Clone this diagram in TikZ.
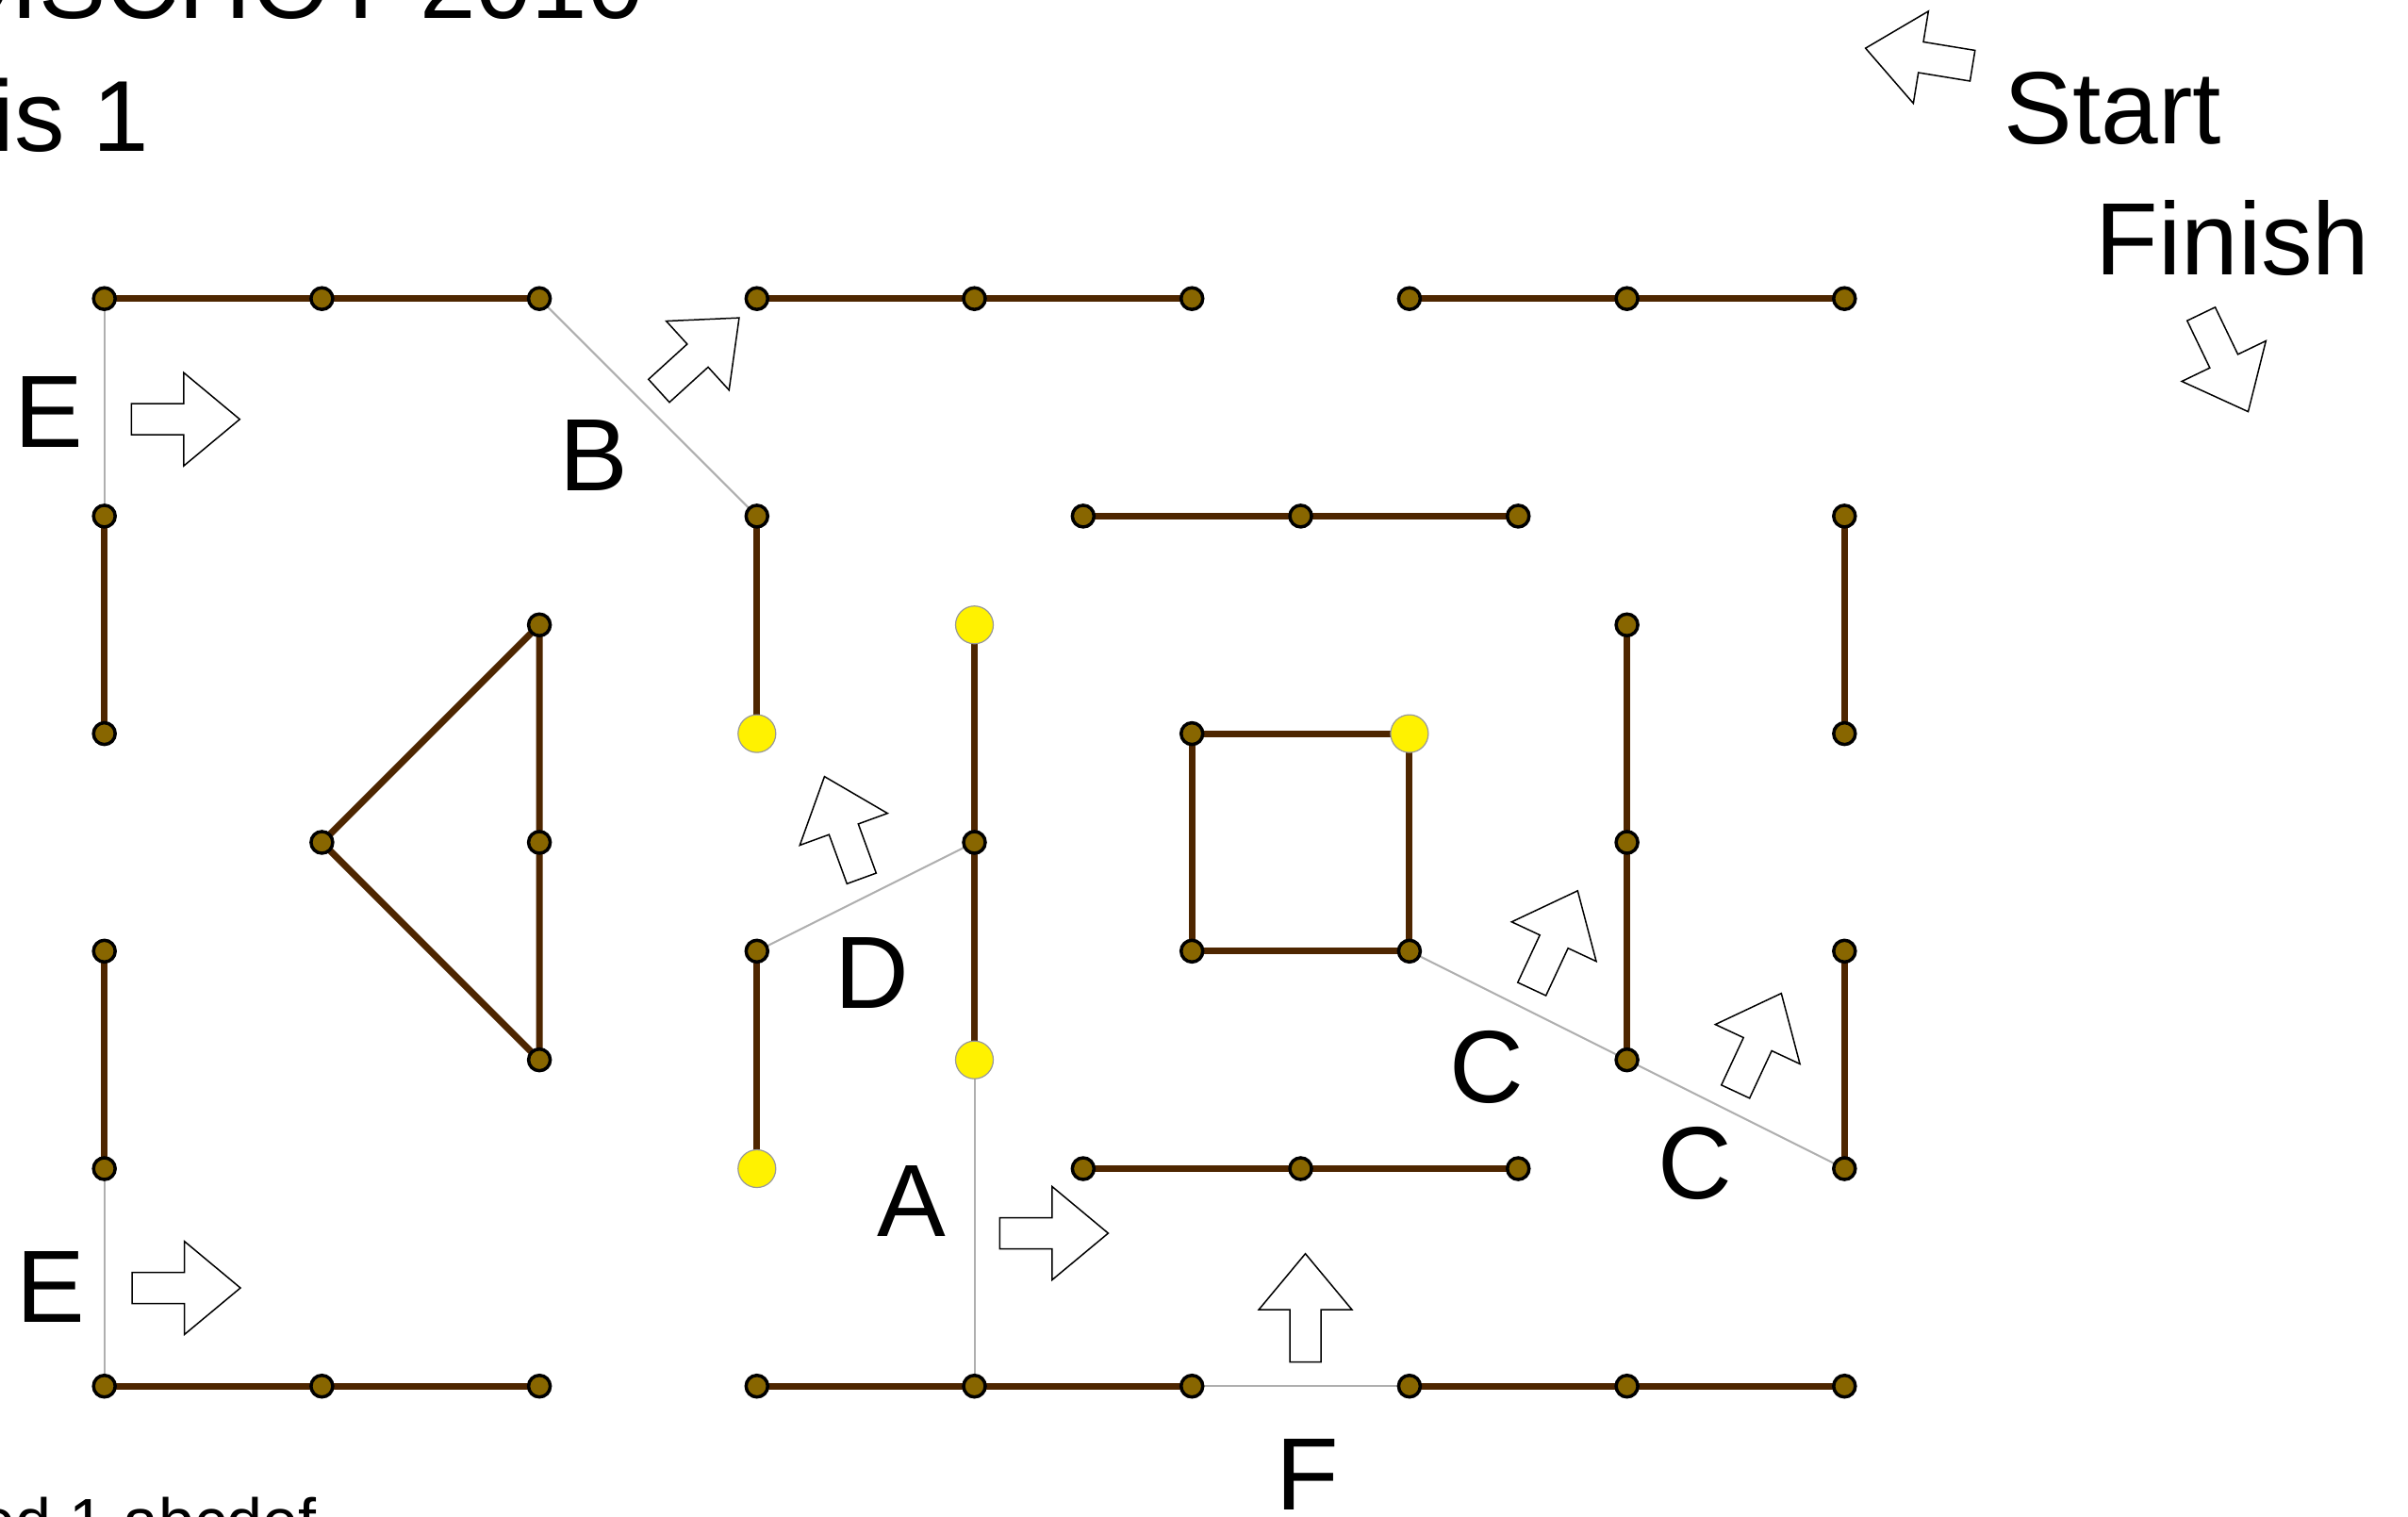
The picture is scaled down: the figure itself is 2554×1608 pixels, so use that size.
\documentclass[tikz,border=0pt]{standalone}
\usepackage{fontspec}
\setmainfont{Liberation Sans}
\definecolor{wallbrown}{RGB}{78,38,0}
\definecolor{dotgold}{RGB}{136,102,0}
\definecolor{guidegray}{RGB}{175,175,175}
\tikzset{
  wall/.style={draw=wallbrown, line width=0.07cm},
  guideline/.style={draw=guidegray, line width=0.02cm},
  post/.style={circle, fill=dotgold, draw=black, line width=0.035cm, inner sep=0pt, minimum size=0.23cm},
  ypost/.style={circle, fill=yellow, draw=gray!80, line width=0.012cm, inner sep=0pt, minimum size=0.40cm},
  lbl/.style={font=\fontsize{31}{36}\selectfont, inner sep=0pt},
  toptext/.style={font=\fontsize{30.4}{36}\selectfont, inner sep=0pt},
  bottext/.style={font=\fontsize{19.4}{23}\selectfont, inner sep=0pt},
  barrow/.style={draw=black, fill=white, line width=0.015cm, line join=miter}
}
\newcommand\blockarr[3]{\draw[barrow, shift={(#1,#2)}, rotate=#3] (0,-16.5) -- (55.5,-16.5) -- (55.5,-49.5) -- (115,0) -- (55.5,49.5) -- (55.5,16.5) -- (0,16.5) -- cycle;}
\begin{document}
\begin{tikzpicture}[x=0.01cm, y=-0.01cm]
\useasboundingbox (0,0) rectangle (2554,1608);
\clip (0,0) rectangle (2554,1608);
\fill[white] (0,0) rectangle (2554,1608);
% grid in half units
\foreach \X in {0,...,16} {
  \foreach \Y in {0,...,10} {
    \coordinate (g\X-\Y) at ({110.7+115.35*\X},{316.7+115.35*\Y});
  }
}
% guide lines
\draw[guideline] (g0-0) -- (g0-2);
\draw[guideline] (g0-8) -- (g0-10);
\draw[guideline] (g4-0) -- (g6-2);
\draw[guideline] (g6-6) -- (g8-5);
\draw[guideline] (g8-7) -- (g8-10);
\draw[guideline] (g10-10) -- (g12-10);
\draw[guideline] (g12-6) -- (g14-7) -- (g16-8);
% walls
\draw[wall] (g0-0) -- (g4-0);
\draw[wall] (g6-0) -- (g10-0);
\draw[wall] (g12-0) -- (g16-0);
\draw[wall] (g0-2) -- (g0-4);
\draw[wall] (g6-2) -- (g6-4);
\draw[wall] (g9-2) -- (g13-2);
\draw[wall] (g16-2) -- (g16-4);
\draw[wall] (g4-3) -- (g2-5) -- (g4-7) -- cycle;
\draw[wall] (g8-3) -- (g8-7);
\draw[wall] (g10-4) -- (g12-4) -- (g12-6) -- (g10-6) -- cycle;
\draw[wall] (g14-3) -- (g14-7);
\draw[wall] (g0-6) -- (g0-8);
\draw[wall] (g6-6) -- (g6-8);
\draw[wall] (g16-6) -- (g16-8);
\draw[wall] (g9-8) -- (g13-8);
\draw[wall] (g0-10) -- (g4-10);
\draw[wall] (g6-10) -- (g10-10);
\draw[wall] (g12-10) -- (g16-10);
% posts
\foreach \p in {0-0,2-0,4-0,6-0,8-0,10-0,12-0,14-0,16-0,
                0-2,0-4,6-2,9-2,11-2,13-2,16-2,16-4,
                4-3,2-5,4-5,4-7,8-5,10-4,10-6,12-6,14-3,14-5,14-7,
                0-6,0-8,6-6,16-6,16-8,9-8,11-8,13-8,
                0-10,2-10,4-10,6-10,8-10,10-10,12-10,14-10,16-10}
  \node[post] (P\p) at (g\p) {};
\foreach \p in {6-4,8-3,8-7,12-4,6-8}
  \node[ypost] (Y\p) at (g\p) {};
% block arrows
\blockarr{139.3}{444.7}{0}
\blockarr{140}{1366}{0}
\blockarr{698.9}{414.5}{42.3}
\blockarr{913.8}{931.7}{110}
\blockarr{1060.4}{1308}{0}
\blockarr{1384.5}{1444.7}{90}
\blockarr{1624.7}{1049}{65}
\blockarr{1840.7}{1157.8}{65}
\blockarr{2092.1}{69.7}{170.7}
\blockarr{2334.6}{333}{-64.3}
% labels
\node[lbl] (lE1) at (52,437) {E};
\node[lbl] (lE2) at (53.7,1365) {E};
\node[lbl] (lB) at (630,483) {B};
\node[lbl] (lD) at (925,1032) {D};
\node[lbl] (lA) at (967,1274) {A};
\node[lbl] (lC1) at (1577,1132) {C};
\node[lbl] (lC2) at (1798,1234) {C};
\node[lbl] (lF) at (1386.5,1564) {F};
\node[lbl, anchor=base west] (lstart) at (2125,152.5) {Start};
\node[lbl, anchor=base west] (lfinish) at (2222,291.7) {Finish};
\node[toptext, anchor=base east] (ltitle) at (683.7,19) {OISCHOT 2010};
\node[toptext, anchor=base west] (lsub) at (-9,160) {is 1};
\node[bottext, anchor=base west] (lfoot) at (-22,1637) {ed 1 abcdef};
\end{tikzpicture}
\end{document}
